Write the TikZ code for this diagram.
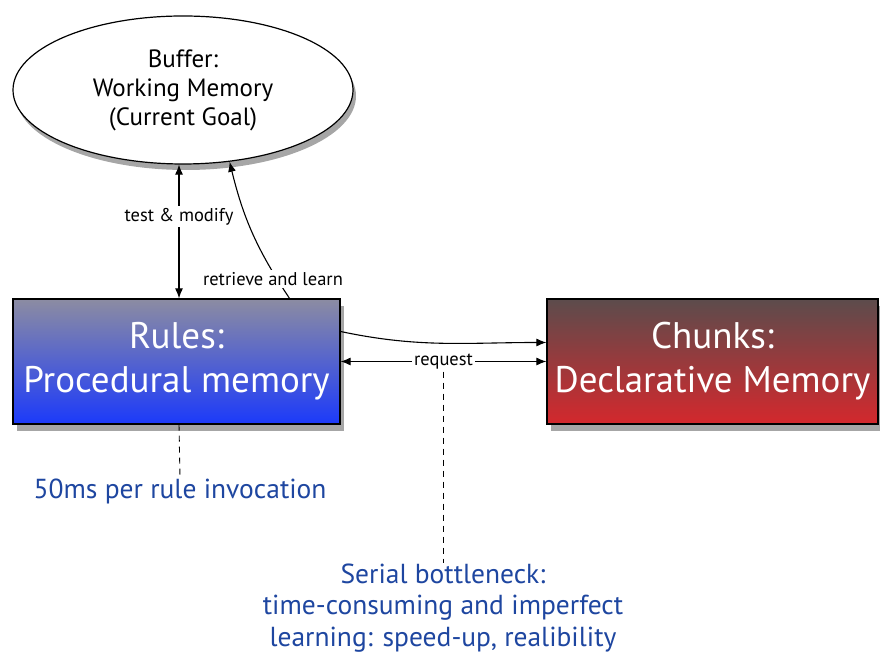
\documentclass[tikz,border=0pt]{standalone}
\usepackage{fontspec}
\setmainfont{PT Sans}
\usetikzlibrary{shadows,arrows.meta,calc,shapes.geometric}
\definecolor{blueTop}{RGB}{140,140,162}
\definecolor{blueBot}{RGB}{28,58,250}
\definecolor{redTop}{RGB}{92,76,76}
\definecolor{redBot}{RGB}{212,40,45}
\definecolor{noteblue}{RGB}{30,70,160}
\begin{document}
\begin{tikzpicture}[x=1pt,y=1pt,
  conn/.style={line width=1.1pt, draw=black},
  tip/.style={-{Latex[length=10pt,width=8pt]}},
  bitip/.style={{Latex[length=10pt,width=8pt]}-{Latex[length=10pt,width=8pt]}},
  lbl/.style={fill=white, inner sep=2pt, font=\fontsize{18.5}{21}\selectfont},
  membox/.style={draw=black, line width=1.2pt, inner sep=0pt, text=white,
     align=center, font=\fontsize{37}{44}\selectfont, shading angle=-15,
     drop shadow={shadow xshift=4pt, shadow yshift=-7pt, opacity=0.35, fill=black}},
  note/.style={text=noteblue, align=center, inner sep=1pt, font=\fontsize{27.5}{31.5}\selectfont},
  dashline/.style={line width=0.9pt, dash pattern=on 6pt off 5pt}
]
\useasboundingbox (0,0) rectangle (880,660);

\node[ellipse, draw=black, line width=1.2pt, fill=white, minimum width=340pt, minimum height=148pt,
  inner sep=0pt, align=center, font=\fontsize{25}{29}\selectfont,
  drop shadow={shadow xshift=3pt, shadow yshift=-6pt, opacity=0.35, fill=black}]
  (buf) at (183,570) {Buffer:\\Working Memory\\(Current Goal)};

\node[membox, minimum width=327pt, minimum height=125pt, top color=blueTop, bottom color=blueBot]
  (rules) at (176.5,298.5) {Rules:\\Procedural memory};

\node[membox, minimum width=331pt, minimum height=125pt, top color=redTop, bottom color=redBot]
  (chunks) at (712.5,298.5) {Chunks:\\Declarative Memory};

% test & modify
\draw[conn, bitip] ([xshift=-4pt]buf.south) -- node[lbl, pos=0.39] {test \& modify} ([xshift=2.5pt]rules.north);

% retrieve and learn
\draw[conn, tip] ([xshift=113pt]rules.north) to[bend left=10] node[lbl, pos=0.14, xshift=-4pt] {retrieve and learn} (buf.-57);

% rules -> chunks curved
\draw[conn, tip] ([yshift=30pt]rules.east) to[out=-12, in=180] ([yshift=19pt]chunks.west);

% request
\draw[conn, bitip] (rules.east) -- node[lbl] (req) {request} (chunks.west);

% notes
\node[note] (n50) at (180,169) {50ms per rule invocation};
\node[note] (bot) at (443,52) {Serial bottleneck:\\time-consuming and imperfect\\learning: speed-up, realibility};

\draw[dashline] ([xshift=2.5pt]rules.south) -- (n50.north);
\draw[dashline] (req.south) -- (req.south |- bot.north);
\end{tikzpicture}
\end{document}
